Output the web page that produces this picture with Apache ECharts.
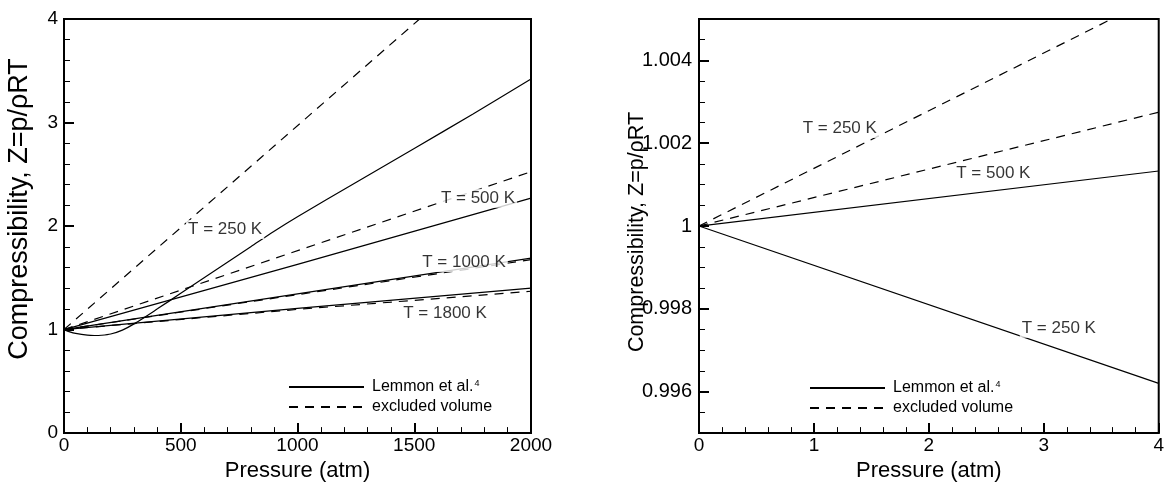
<!DOCTYPE html>
<html>
<head>
<meta charset="utf-8">
<script src="https://cdn.jsdelivr.net/npm/echarts@6/dist/echarts.min.js"></script>
<style>
html,body{margin:0;padding:0;background:#fff;}
#c{width:1167px;height:487px;}
</style>
</head>
<body>
<div id="c"></div>
<script>
// ---------- data: left panel (0-2000 atm) ----------
const leftLemmon250 = [[0,1],[25,0.978],[50,0.963],[100,0.946],[130,0.943],[160,0.945],[200,0.957],[250,0.995],[300,1.055],[400,1.2],[500,1.35],[600,1.5],[700,1.65],[800,1.8],[900,1.95],[1000,2.09],[1250,2.42],[1500,2.75],[1750,3.08],[2000,3.42]];
const leftLemmon500  = [[0,1],[1000,1.63],[2000,2.27]];
const leftLemmon1000 = [[0,1],[2000,1.69]];
const leftLemmon1800 = [[0,1],[1000,1.205],[2000,1.40]];
const leftExcl250  = [[0,1],[1523,4.0]];
const leftExcl500  = [[0,1],[2000,2.525]];
const leftExcl1000 = [[0,1],[2000,1.675]];
const leftExcl1800 = [[0,1],[1000,1.195],[2000,1.37]];
const leftLabelText = ['T = 250 K','T = 500 K','T = 1000 K','T = 1800 K'];
const leftLabelX = [690,1773,1713,1632];
const leftLabelY = [1.967,2.268,1.647,1.158];

// ---------- data: right panel (0-4 atm) ----------
const rightLemmon500 = [[0,1],[4,1.00133]];
const rightLemmon250 = [[0,1],[4,0.99620]];
const rightExcl250 = [[0,1],[3.59,1.005]];
const rightExcl500 = [[0,1],[4,1.00275]];
const rightLabelText = ['T = 250 K','T = 500 K','T = 250 K'];
const rightLabelX = [1.225,2.561,3.131];
const rightLabelY = [1.002353,1.001278,0.99753];
const rightMajorTicks = [0.996,0.998,1,1.002,1.004];

const legendNames = ['Lemmon et al.','excluded volume'];

const FONT = '"Liberation Sans", Arial, Helvetica, sans-serif';
const chart = echarts.init(document.getElementById('c'), null, {renderer:'canvas'});

function lineSeries(name, data, xi, yi, dashed, smooth){
  return {
    type:'line', name:name, data:data, xAxisIndex:xi, yAxisIndex:yi,
    showSymbol:false, symbol:'none', smooth: smooth||false, clip:true,
    lineStyle:{color:'#000', width:1.2, type: dashed ? [9,7] : 'solid'},
    itemStyle:{color:'#000'}, z:3, silent:true
  };
}
function labelSeries(name, xs, ys, texts, xi, yi){
  return {
    type:'scatter', name:name, xAxisIndex:xi, yAxisIndex:yi,
    data: xs.map((x,i)=>[x, ys[i]]), symbolSize:0, z:10, silent:true,
    label:{show:true, position:'inside', color:'#000', fontSize:17, fontFamily:FONT,
      backgroundColor:'#fff', padding:[1,2],
      formatter: p => texts[p.dataIndex]}
  };
}
const plainNum = v => String(Math.round(v * 1e6) / 1e6);
const tickLabel = {color:'#000', fontSize:19, fontFamily:FONT, formatter: plainNum};
const axisLine = {show:true, onZero:false, lineStyle:{color:'#000', width:2}};
const majorTick = {show:true, inside:true, length:10, lineStyle:{color:'#000', width:2}};
const minorTick = {show:true, splitNumber:5, length:6, lineStyle:{color:'#000', width:1}};

const legendCommon = {
  orient:'vertical', itemWidth:75, itemHeight:14, itemGap:4, selectedMode:false,
  data: legendNames,
  itemStyle:{color:'rgba(0,0,0,0)', borderWidth:0, opacity:0},
  formatter: n => n === 'Lemmon et al.' ? '{a|' + n + '}{s|4}' : '{a|' + n + '}',
  textStyle:{color:'#000', fontSize:16, fontFamily:FONT,
    rich:{a:{fontSize:16, fontFamily:FONT, color:'#000', padding:[0,0,0,3]},
          s:{fontSize:9, fontFamily:FONT, color:'#000', verticalAlign:'top', padding:[0,0,0,1]}}}
};

chart.setOption({
  animation:false,
  backgroundColor:'#fff',
  textStyle:{fontFamily:FONT},
  grid:[
    {left:64, top:19, width:467, height:425, show:true, borderColor:'#000', borderWidth:2, containLabel:false},
    {left:699, top:19, width:467, height:425, show:true, borderColor:'#000', borderWidth:2, containLabel:false}
  ],
  legend:[
    Object.assign({}, legendCommon, {left:283, top:374}),
    Object.assign({}, legendCommon, {left:804, top:375})
  ],
  xAxis:[
    {gridIndex:0, type:'value', min:0, max:2000, interval:500, position:'bottom',
     axisLine:axisLine, axisTick:majorTick, minorTick:minorTick, splitLine:{show:false},
     axisLabel:Object.assign({margin:3}, tickLabel),
     name:'Pressure (atm)', nameLocation:'middle', nameGap:10,
     nameTextStyle:{color:'#000', fontSize:22, fontFamily:FONT}},
    {gridIndex:1, type:'value', min:0, max:4, interval:1, position:'bottom',
     axisLine:axisLine, axisTick:majorTick, minorTick:minorTick, splitLine:{show:false},
     axisLabel:Object.assign({margin:3}, tickLabel),
     name:'Pressure (atm)', nameLocation:'middle', nameGap:10,
     nameTextStyle:{color:'#000', fontSize:22, fontFamily:FONT}}
  ],
  yAxis:[
    {gridIndex:0, type:'value', min:0, max:4, interval:1, position:'left',
     axisLine:axisLine, axisTick:majorTick, minorTick:minorTick, splitLine:{show:false},
     axisLabel:Object.assign({margin:6}, tickLabel)},
    {gridIndex:1, type:'value', min:0.995, max:1.005, position:'left',
     axisLine:axisLine,
     axisTick:Object.assign({}, majorTick, {customValues: rightMajorTicks}),
     splitLine:{show:false},
     axisLabel:Object.assign({}, tickLabel, {margin:7, fontSize:20, customValues: rightMajorTicks})},
    {gridIndex:1, type:'value', min:0.995, max:1.005, interval:0.0005, position:'left', offset:0,
     axisLine:{show:false}, axisLabel:{show:false}, splitLine:{show:false},
     axisTick:{show:true, inside:true, length:6, lineStyle:{color:'#000', width:1}}}
  ],
  graphic:[
    {type:'text', x:20, y:209, rotation:Math.PI/2,
     style:{text:'Compressibility, Z=p/\u03C1RT', fill:'#000', font:'27px ' + FONT, textAlign:'center', textVerticalAlign:'middle'}},
    {type:'text', x:637, y:232, rotation:Math.PI/2,
     style:{text:'Compressibility, Z=p/\u03C1RT', fill:'#000', font:'21.5px ' + FONT, textAlign:'center', textVerticalAlign:'middle'}}
  ],
  series:[
    lineSeries('Lemmon et al.', leftLemmon250, 0, 0, false, 0.3),
    lineSeries('Lemmon et al.', leftLemmon500, 0, 0, false),
    lineSeries('Lemmon et al.', leftLemmon1000, 0, 0, false),
    lineSeries('Lemmon et al.', leftLemmon1800, 0, 0, false),
    lineSeries('excluded volume', leftExcl250, 0, 0, true),
    lineSeries('excluded volume', leftExcl500, 0, 0, true),
    lineSeries('excluded volume', leftExcl1000, 0, 0, true),
    lineSeries('excluded volume', leftExcl1800, 0, 0, true),
    labelSeries('labelsLeft', leftLabelX, leftLabelY, leftLabelText, 0, 0),
    lineSeries('Lemmon et al.', rightLemmon500, 1, 1, false),
    lineSeries('Lemmon et al.', rightLemmon250, 1, 1, false),
    lineSeries('excluded volume', rightExcl250, 1, 1, true),
    lineSeries('excluded volume', rightExcl500, 1, 1, true),
    labelSeries('labelsRight', rightLabelX, rightLabelY, rightLabelText, 1, 1)
  ]
});
</script>
</body>
</html>
